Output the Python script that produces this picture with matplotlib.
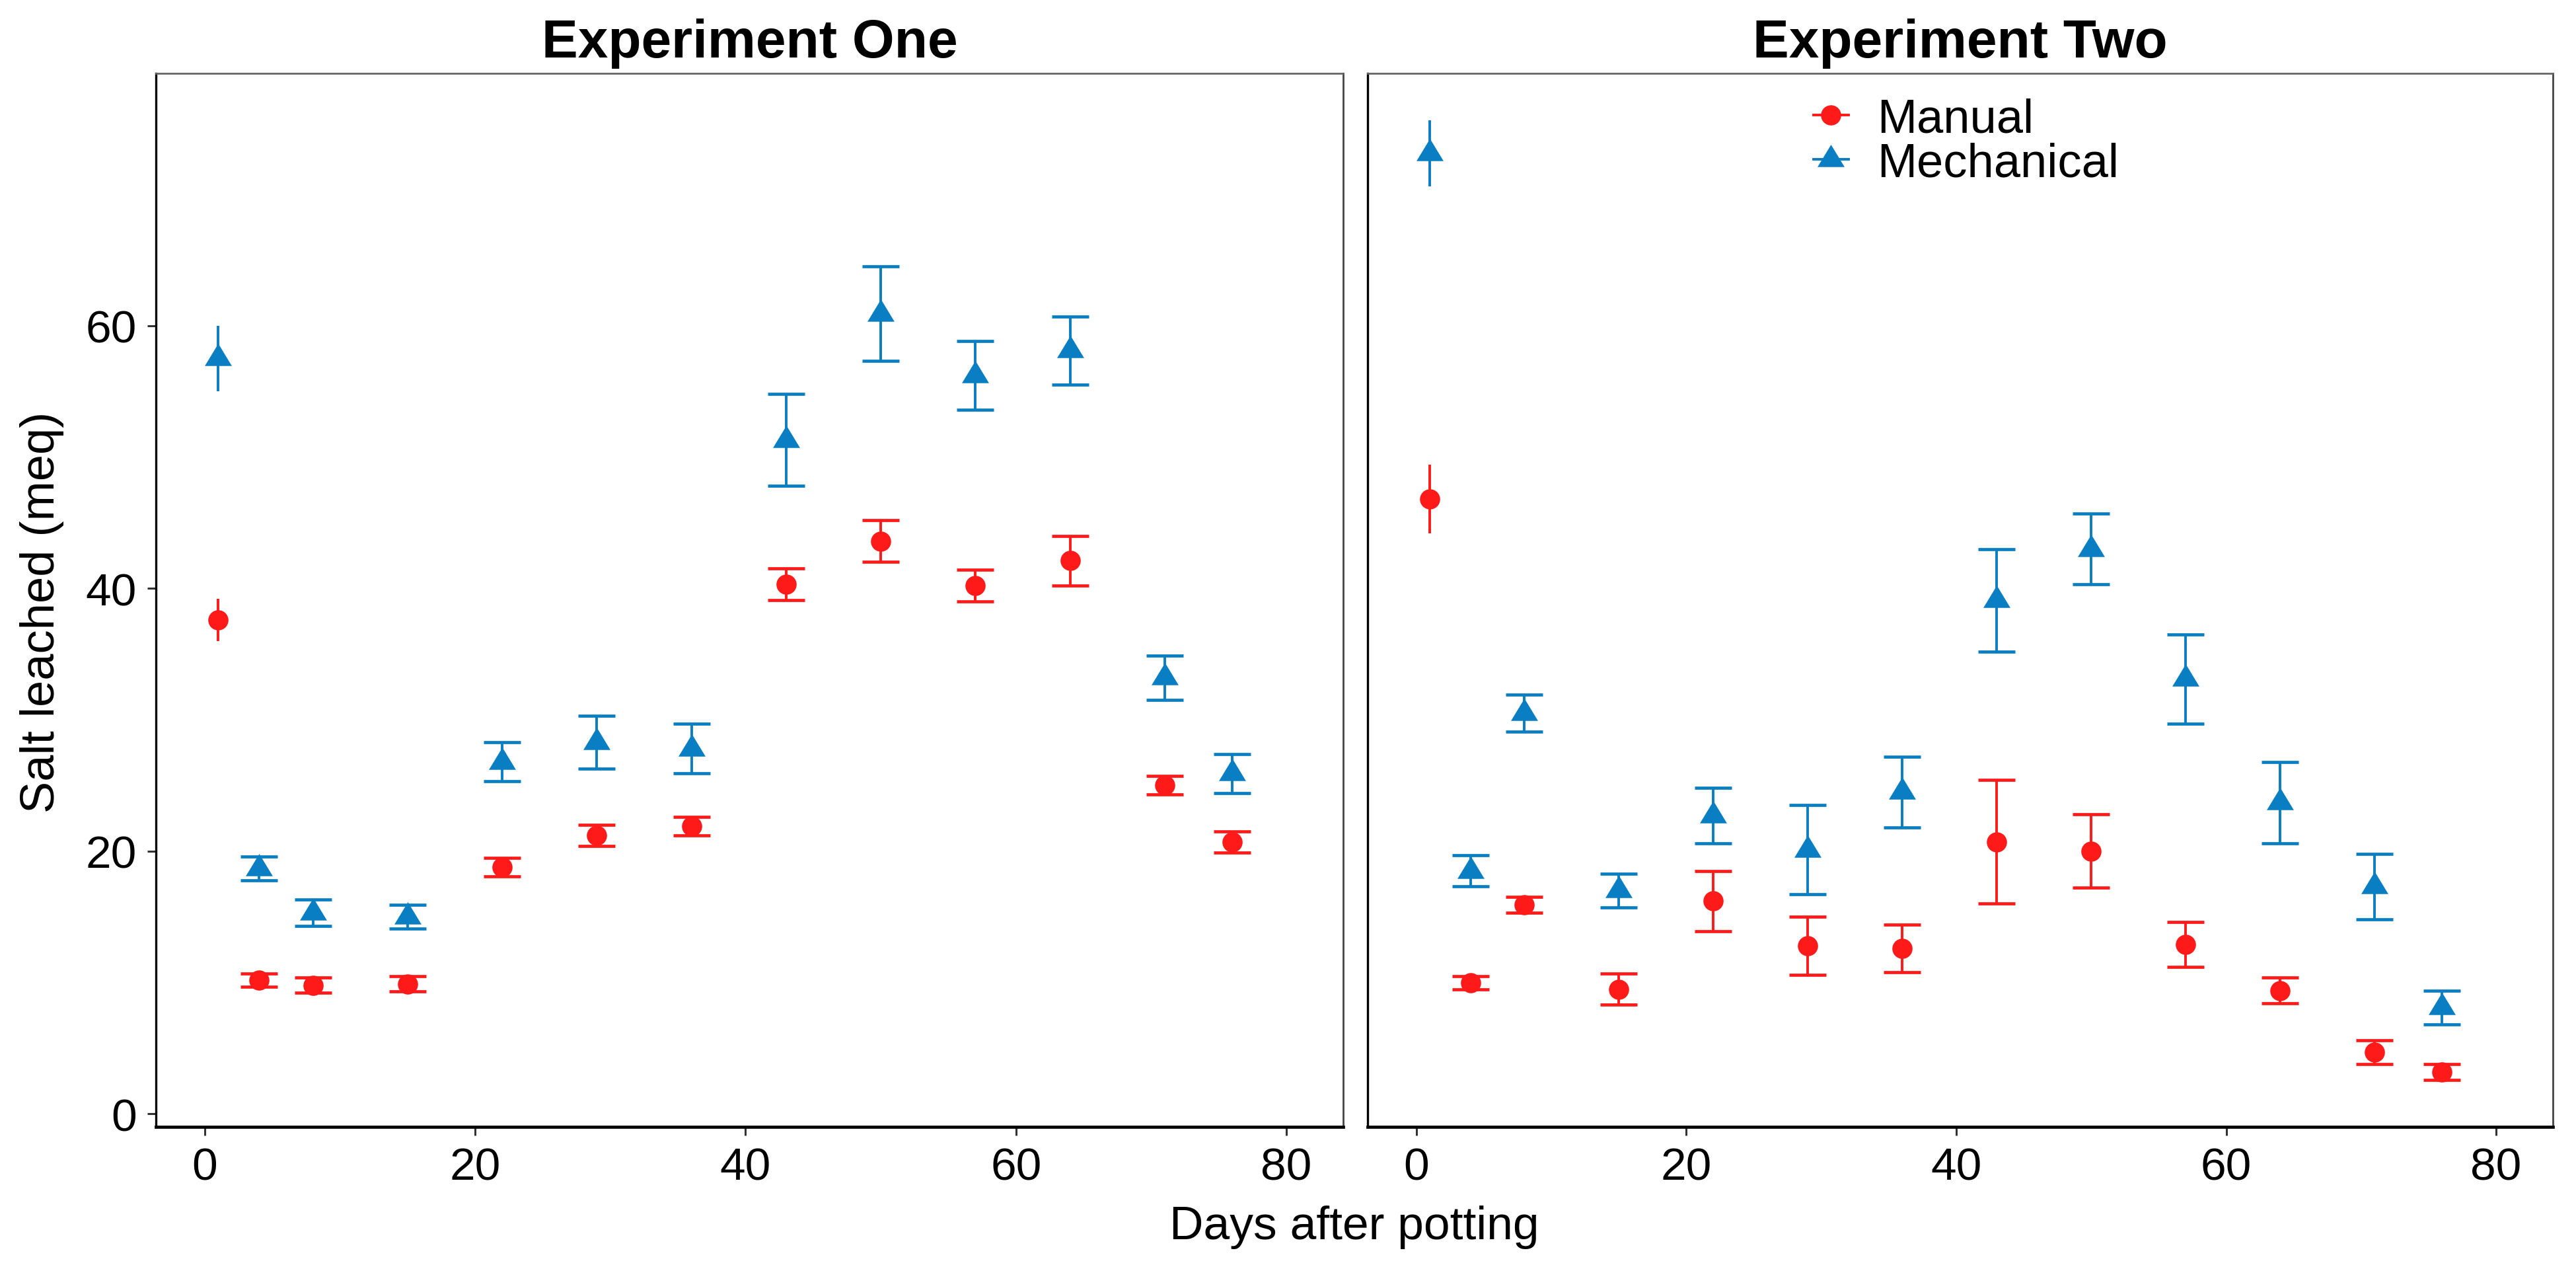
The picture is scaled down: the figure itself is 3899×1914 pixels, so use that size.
import matplotlib
matplotlib.use("Agg")
from matplotlib import pyplot as plt
from matplotlib.lines import Line2D

plt.rcParams['font.family'] = ['Liberation Sans', 'DejaVu Sans']

days = [1, 4, 8, 15, 22, 29, 36, 43, 50, 57, 64, 71, 76]

# Experiment One
one_manual = [37.6, 10.2, 9.8, 9.9, 18.8, 21.2, 21.9, 40.3, 43.6, 40.2, 42.1, 25.0, 20.7]
one_manual_err = [1.6, 0.5, 0.6, 0.6, 0.7, 0.8, 0.7, 1.2, 1.6, 1.2, 1.9, 0.7, 0.8]
one_mech = [57.5, 18.7, 15.3, 15.0, 26.8, 28.3, 27.8, 51.3, 60.9, 56.2, 58.1, 33.2, 25.9]
one_mech_err = [2.5, 0.9, 1.0, 0.9, 1.5, 2.0, 1.9, 3.5, 3.6, 2.6, 2.6, 1.7, 1.5]

# Experiment Two
two_manual = [46.8, 10.0, 15.9, 9.5, 16.2, 12.8, 12.6, 20.7, 20.0, 12.9, 9.4, 4.7, 3.2]
two_manual_err = [2.6, 0.5, 0.6, 1.2, 2.3, 2.2, 1.8, 4.7, 2.8, 1.7, 1.0, 0.9, 0.6]
two_mech = [73.1, 18.5, 30.5, 17.0, 22.7, 20.1, 24.5, 39.1, 43.0, 33.1, 23.7, 17.3, 8.1]
two_mech_err = [2.5, 1.2, 1.4, 1.3, 2.1, 3.4, 2.7, 3.9, 2.7, 3.4, 3.1, 2.5, 1.3]

titles = ["Experiment One", "Experiment Two"]
series_names = ["Manual", "Mechanical"]

red = '#FF1A1A'
blue = '#0A7EC2'

# flat triangle centred on its centroid, like the R triangle symbol
tri = [(-1, -0.55), (1, -0.55), (0, 1.1), (-1, -0.55)]


def draw_series(ax, x, y, err, color, marker, ms):
    # first point has no caps in the original figure
    ax.errorbar(x[:1], y[:1], yerr=err[:1], fmt='none', ecolor=color,
                elinewidth=1.4, capsize=0, zorder=3)
    ax.errorbar(x[1:], y[1:], yerr=err[1:], fmt='none', ecolor=color,
                elinewidth=1.4, capsize=10, capthick=1.7, zorder=3)
    ax.plot(x, y, linestyle='none', marker=marker, color=color, ms=ms,
            markeredgewidth=0, zorder=4)


fig = plt.figure(figsize=(19.495, 9.575), dpi=200)
ax1 = fig.add_axes([0.0606, 0.109, 0.4608, 0.8326])
ax2 = fig.add_axes([0.531, 0.109, 0.460, 0.8326])

data = [(one_manual, one_manual_err, one_mech, one_mech_err),
        (two_manual, two_manual_err, two_mech, two_mech_err)]

for ax, title, (man, man_err, mech, mech_err) in zip([ax1, ax2], titles, data):
    draw_series(ax, days, man, man_err, red, 'o', 11)
    draw_series(ax, days, mech, mech_err, blue, tri, 16.2)
    ax.set_xlim(-3.6, 84.2)
    ax.set_ylim(-1.0, 79.2)
    ax.set_xticks([0, 20, 40, 60, 80])
    ax.set_yticks([0, 20, 40, 60])
    ax.set_title(title, fontsize=29.5, fontweight='bold', pad=9)
    ax.tick_params(labelsize=25, length=4.7, width=1.1, color='#333333', pad=6)
    ax.spines['top'].set_color('#666666')
    ax.spines['right'].set_color('#444444')
    ax.spines['top'].set_linewidth(1.0)
    ax.spines['right'].set_linewidth(1.0)
    ax.spines['left'].set_color('black')
    ax.spines['left'].set_linewidth(1.2)
    ax.spines['bottom'].set_color('black')
    ax.spines['bottom'].set_linewidth(1.7)

ax2.tick_params(axis='y', left=False, labelleft=False)

fig.text(0.0162, 0.516, "Salt leached (meq)", fontsize=26, rotation=90,
         ha='center', va='center')
fig.text(0.5258, 0.0209, "Days after potting", fontsize=25.7, ha='center',
         va='baseline')

handles = [Line2D([], [], color=red, marker='o', ms=11, lw=1.4, markeredgewidth=0),
           Line2D([], [], color=blue, marker=tri, ms=16.2, lw=1.4, markeredgewidth=0)]
ax2.legend(handles, series_names, loc='upper left', bbox_to_anchor=(0.36, 0.995),
           frameon=False, fontsize=26, handlelength=0.73, handletextpad=0.6,
           labelspacing=0.0, borderaxespad=0.0)

fig.savefig("out.png", dpi=200)
